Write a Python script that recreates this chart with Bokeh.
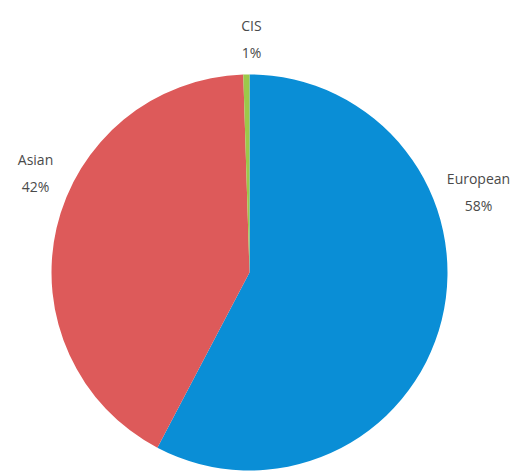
from math import pi
from bokeh.plotting import figure
from bokeh.models import Range1d, ColumnDataSource
from bokeh.core.properties import value
from bokeh.embed import file_html
from bokeh.resources import INLINE

# Data (shares in %)
categories = ["European", "Asian", "CIS"]
shares = [57.7, 41.8, 0.5]
share_labels = ["58%", "42%", "1%"]
colors = ["#0a8ed6", "#dd5a5a", "#9cc84a"]

W, H = 521, 476
cx, cy, r = 249, H - 272, 198

p = figure(width=W, height=H, output_backend="svg", toolbar_location=None,
           x_range=Range1d(0, W), y_range=Range1d(0, H),
           min_border=0, outline_line_color=None)
p.axis.visible = False
p.grid.visible = False
p.background_fill_color = "white"
p.border_fill_color = "white"

total = sum(shares)
starts, ends = [], []
cum = 0.0
for s in shares:
    starts.append(pi / 2 - cum / total * 2 * pi)
    cum += s
    ends.append(pi / 2 - cum / total * 2 * pi)

src = ColumnDataSource(dict(start=starts, end=ends, color=colors))
p.wedge(x=cx, y=cy, radius=r, start_angle="start", end_angle="end",
        direction="clock", fill_color="color", line_color=None, source=src)

# label anchor points (layout)
label_xy = {"European": (478, H - 178), "Asian": (35, H - 159), "CIS": (251, H - 25)}
gap = 27
tx, ty, tt = [], [], []
for c, sl in zip(categories, share_labels):
    x, y = label_xy[c]
    tx += [x, x]
    ty += [y, y - gap]
    tt += [c, sl]

p.text(x=tx, y=ty, text=tt, text_align="center", text_baseline="middle",
       text_font=value("Open Sans"), text_font_size="14px", text_color="#4a4a4a")

open("out.html", "w").write(file_html(p, INLINE))
